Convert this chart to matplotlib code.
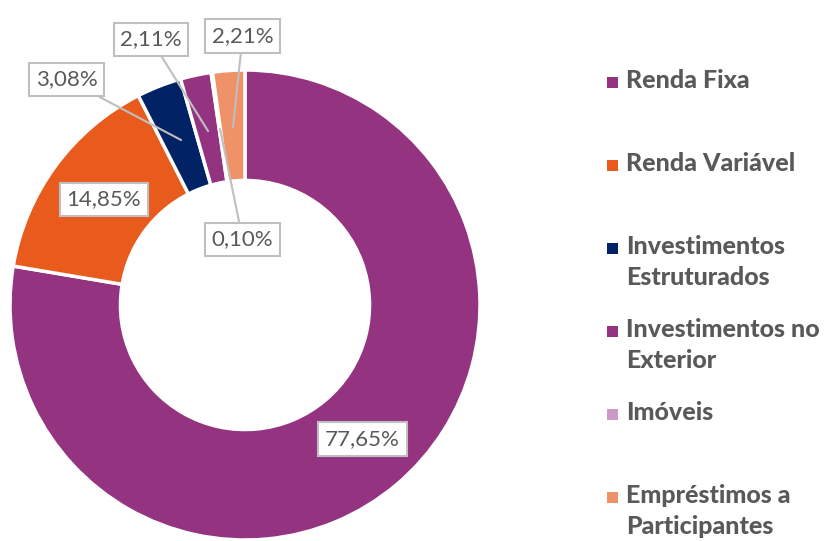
import matplotlib
matplotlib.use("Agg")
import matplotlib.pyplot as plt

# Portfolio allocation (%), clockwise from 12 o'clock
categories = ["Renda Fixa", "Renda Variável", "Investimentos\nEstruturados",
              "Investimentos no\nExterior", "Imóveis", "Empréstimos a\nParticipantes"]
values = [77.65, 14.85, 3.08, 2.11, 0.10, 2.21]
labels = ["77,65%", "14,85%", "3,08%", "2,11%", "0,10%", "2,21%"]
colors = ["#943481", "#E95B1C", "#012264", "#943481", "#CC99C9", "#F09268"]

# label box centres and leader targets (data coords, radius 1 pie)
label_pos = [(0.50, -0.57), (-0.60, 0.45), (-0.76, 0.96),
             (-0.40, 1.13), (-0.01, 0.28), (-0.01, 1.145)]
leader_to = [None, None, (-0.272, 0.702), (-0.157, 0.740),
             (-0.106, 0.749), (-0.051, 0.757)]

TEXT_GRAY = "#595959"

fig = plt.figure(figsize=(8.35, 5.41), dpi=100)
ax = fig.add_axes([10 / 835, 1 / 541, 470 / 835, 470 / 541])

wedges, _ = ax.pie(values, colors=colors, startangle=90, counterclock=False,
                   radius=1.0,
                   wedgeprops=dict(width=0.47, edgecolor="white", linewidth=2.5))
ax.set_xlim(-1, 1)
ax.set_ylim(-1, 1)
ax.set_aspect("equal")
ax.axis("off")

box = dict(boxstyle="square,pad=0.3", fc="white", ec="#BFBFBF", lw=1.5)
for lab, pos, tgt in zip(labels, label_pos, leader_to):
    if tgt is None:
        ax.text(pos[0], pos[1], lab, ha="center", va="center", fontsize=16,
                family="Lato", color=TEXT_GRAY, bbox=box, zorder=5)
    else:
        ax.annotate(lab, xy=tgt, xytext=pos, ha="center", va="center",
                    fontsize=16, family="Lato", color=TEXT_GRAY, bbox=box,
                    arrowprops=dict(arrowstyle="-", color="#BFBFBF", lw=1.5,
                                    shrinkA=0, shrinkB=0),
                    zorder=5)

# legend, one entry per category
for i, (cat, col) in enumerate(zip(categories, colors)):
    y = 1 - (82 + i * 83) / 541
    fig.patches.append(plt.Rectangle((607 / 835, y - 6 / 541), 11 / 835, 11 / 541,
                                     transform=fig.transFigure, fc=col, ec="none"))
    fig.text(626 / 835, y + 13 / 541, cat, ha="left", va="top", fontsize=18,
             family="Lato", fontweight="black", color=TEXT_GRAY, linespacing=1.4)

fig.savefig("out.png", dpi=100)
